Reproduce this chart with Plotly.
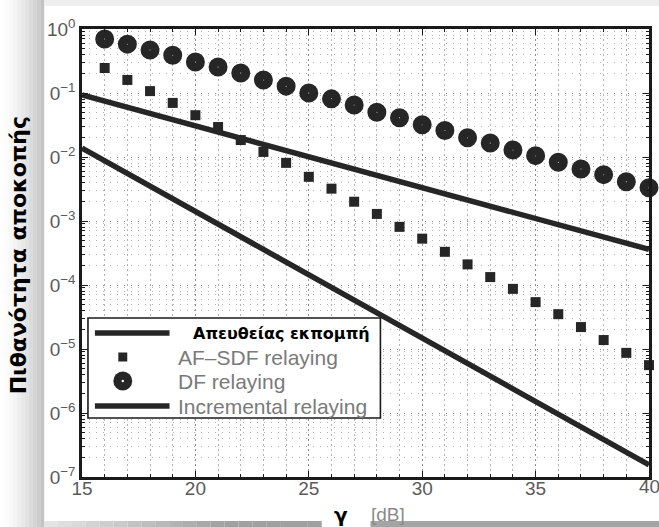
import plotly.graph_objects as go

# SNR axis values (dB) for the relaying schemes
snr_db = list(range(16, 41))

# Outage probability, AF-SDF relaying
p_af_sdf = [0.246, 0.16, 0.107, 0.070, 0.045, 0.0294, 0.0184, 0.0120, 0.0081,
            0.0049, 0.0032, 0.0020, 0.00129, 0.00081, 0.00053, 0.00033, 0.00021,
            0.000133, 8.7e-5, 5.4e-5, 3.5e-5, 2.2e-5, 1.38e-5, 8.7e-6, 5.6e-6]

# Outage probability, DF relaying
p_df = [0.70, 0.58, 0.47, 0.39, 0.305, 0.255, 0.205, 0.16, 0.128, 0.10, 0.081,
        0.065, 0.050, 0.041, 0.032, 0.026, 0.020, 0.0165, 0.0129, 0.0105,
        0.0083, 0.0065, 0.0053, 0.0041, 0.0033]

# Straight lines: direct transmission and incremental relaying (end points)
line_snr_db = [15, 40]
p_direct = [0.093, 3.6e-4]
p_incremental = [0.0138, 1.55e-7]

# Axis ticks
x_ticks = [15, 20, 25, 30, 35, 40]
x_ticktext = ["15", "20", "25", "30", "35", ""]
x_last_label = "40"
y_tickvals = [1e0, 1e-1, 1e-2, 1e-3, 1e-4, 1e-5, 1e-6, 1e-7]
y_ticktext = ["10<sup>0</sup>", "0<sup>\u22121</sup>", "0<sup>\u22122</sup>",
              "0<sup>\u22123</sup>", "0<sup>\u22124</sup>", "0<sup>\u22125</sup>",
              "0<sup>\u22126</sup>", "0<sup>\u22127</sup>"]

legend_labels = ["Απευθείας εκπομπή", "AF\u2013SDF relaying", "DF relaying",
                 "Incremental relaying"]

# ---- layout geometry (pixels) ----
W_FIG, H_FIG = 659, 527
L, R, T, B = 82, 652, 29, 477
INK = "#262626"
GRID = "#b4b4b4"
GRID_MAJOR = "#8c8c8c"
TICK_FONT = dict(family="Liberation Sans", size=19, color="#5a5a5a")


def px(x):
    return (x - L) / (R - L)


def py(y):
    return (B - y) / (B - T)


fig = go.Figure()

fig.add_trace(go.Scatter(x=line_snr_db, y=p_direct, mode="lines",
                         line=dict(color=INK, width=5.5), showlegend=False))
fig.add_trace(go.Scatter(x=line_snr_db, y=p_incremental, mode="lines",
                         line=dict(color=INK, width=5.5), showlegend=False))
fig.add_trace(go.Scatter(x=snr_db, y=p_af_sdf, mode="markers", cliponaxis=False,
                         marker=dict(symbol="square", size=10, color=INK),
                         showlegend=False))
fig.add_trace(go.Scatter(x=snr_db, y=p_df, mode="markers", cliponaxis=False,
                         marker=dict(symbol="circle-open", size=10, color=INK,
                                     line=dict(color=INK, width=9)),
                         showlegend=False))

shapes = []

# page shadow on the left edge
steps = 11
for i in range(steps):
    g = int(255 - (255 - 196) * (i / (steps - 1)) ** 1.4)
    shapes.append(dict(type="rect", xref="paper", yref="paper", layer="below",
                       x0=px(i * 4), x1=px(i * 4 + 4), y0=py(W_FIG), y1=py(0),
                       line=dict(width=0), fillcolor=f"rgb({g},{g},{g})"))
# thin strip along the top
shapes.append(dict(type="rect", xref="paper", yref="paper", layer="below",
                   x0=px(44), x1=px(W_FIG + 5), y0=py(6), y1=py(-5),
                   line=dict(width=0), fillcolor="#eeeeee"))
# bottom shadow bar, fading in from the left, broken by the axis title
seg = 20
for i in range(seg):
    x0 = 44 + (323 - 44) * i / seg
    x1 = 44 + (323 - 44) * (i + 1) / seg
    g = int(228 - (228 - 160) * min(1.0, (i / (seg - 1)) * 1.5))
    shapes.append(dict(type="rect", xref="paper", yref="paper", layer="above",
                       x0=px(x0), x1=px(x1), y0=py(H_FIG + 5), y1=py(521),
                       line=dict(width=0), fillcolor=f"rgb({g},{g},{g})"))
shapes.append(dict(type="rect", xref="paper", yref="paper", layer="above",
                   x0=px(372), x1=px(W_FIG + 5), y0=py(H_FIG + 5), y1=py(521),
                   line=dict(width=0), fillcolor="#a4a4a4"))

# legend box
LX0, LX1, LY0, LY1 = 88, 382, 318, 418
shapes.append(dict(type="rect", xref="paper", yref="paper", layer="above",
                   x0=px(LX0), x1=px(LX1), y0=py(LY1), y1=py(LY0),
                   line=dict(color="#1a1a1a", width=1.6), fillcolor="white"))
row_y = [333, 357, 381, 406]
for yy in (row_y[0], row_y[3]):
    shapes.append(dict(type="line", xref="paper", yref="paper", layer="above",
                       x0=px(95), x1=px(170), y0=py(yy), y1=py(yy),
                       line=dict(color=INK, width=5.5)))
shapes.append(dict(type="rect", xref="paper", yref="paper", layer="above",
                   x0=px(118.5), x1=px(127.5), y0=py(row_y[1] + 4.5),
                   y1=py(row_y[1] - 4.5), line=dict(width=0), fillcolor=INK))
shapes.append(dict(type="circle", xref="paper", yref="paper", layer="above",
                   x0=px(113.5), x1=px(132.5), y0=py(row_y[2] + 9.5),
                   y1=py(row_y[2] - 9.5), line=dict(width=0), fillcolor=INK))
shapes.append(dict(type="circle", xref="paper", yref="paper", layer="above",
                   x0=px(121.8), x1=px(124.2), y0=py(row_y[2] + 1.2),
                   y1=py(row_y[2] - 1.2), line=dict(width=0), fillcolor="white"))

annotations = [
    dict(text="<b>" + legend_labels[0] + "</b>", x=px(374), y=py(row_y[0]),
         xanchor="right", yanchor="middle",
         font=dict(family="DejaVu Sans", size=16, color="black")),
]
for lbl, yy in zip(legend_labels[1:], row_y[1:]):
    annotations.append(dict(text=lbl, x=px(176), y=py(yy), xanchor="left",
                            yanchor="middle",
                            font=dict(family="Liberation Sans", size=21,
                                      color="#7a7a7a")))
for a in annotations:
    a.update(xref="paper", yref="paper", showarrow=False)

# last x tick label, placed on its tick so it runs off the page edge
annotations.append(dict(text=x_last_label, xref="x", yref="paper",
                        x=x_ticks[-1], y=py(486), showarrow=False,
                        xanchor="center", yanchor="middle", font=TICK_FONT))

# axis titles
annotations.append(dict(text="<b>Πιθανότητα αποκοπής</b>", xref="paper",
                        yref="paper", x=px(18), y=py(255), textangle=-90,
                        showarrow=False, xanchor="center", yanchor="middle",
                        font=dict(family="DejaVu Sans", size=22, color="black")))
annotations.append(dict(text="<b>γ</b>", xref="paper", yref="paper",
                        x=px(342), y=py(515), showarrow=False,
                        xanchor="center", yanchor="middle",
                        font=dict(family="DejaVu Sans", size=20, color="black")))
annotations.append(dict(text="[dB]", xref="paper", yref="paper",
                        x=px(371), y=py(514), showarrow=False,
                        xanchor="left", yanchor="middle",
                        font=dict(family="Liberation Sans", size=19,
                                  color="#8a8a8a")))

axis_common = dict(showline=True, linewidth=2.5, linecolor="#1a1a1a",
                   mirror="allticks", ticks="inside", ticklen=6, tickwidth=1.3,
                   tickcolor="#1a1a1a", showgrid=True, gridcolor=GRID_MAJOR,
                   gridwidth=1, zeroline=False, tickfont=TICK_FONT)

fig.update_layout(
    width=W_FIG, height=H_FIG,
    margin=dict(l=L, r=W_FIG - R, t=T, b=H_FIG - B, pad=0),
    paper_bgcolor="white", plot_bgcolor="white",
    showlegend=False,
    shapes=shapes, annotations=annotations,
    xaxis=dict(range=[15, 40], tickvals=x_ticks, ticktext=x_ticktext,
               griddash="2px,3px", ticklabelstandoff=-8,
               minor=dict(dtick=1, showgrid=True, gridcolor=GRID,
                          griddash="2px,3px", ticks="inside", ticklen=3,
                          tickcolor="#1a1a1a"),
               **axis_common),
    yaxis=dict(type="log", range=[-7, 0], tickvals=y_tickvals,
               ticktext=y_ticktext, griddash="1px,6px",
               minor=dict(dtick="D1", showgrid=True, gridcolor=GRID,
                          griddash="1px,6px", ticks="inside", ticklen=3,
                          tickcolor="#1a1a1a"),
               **axis_common),
)

fig.write_html("out.html")
